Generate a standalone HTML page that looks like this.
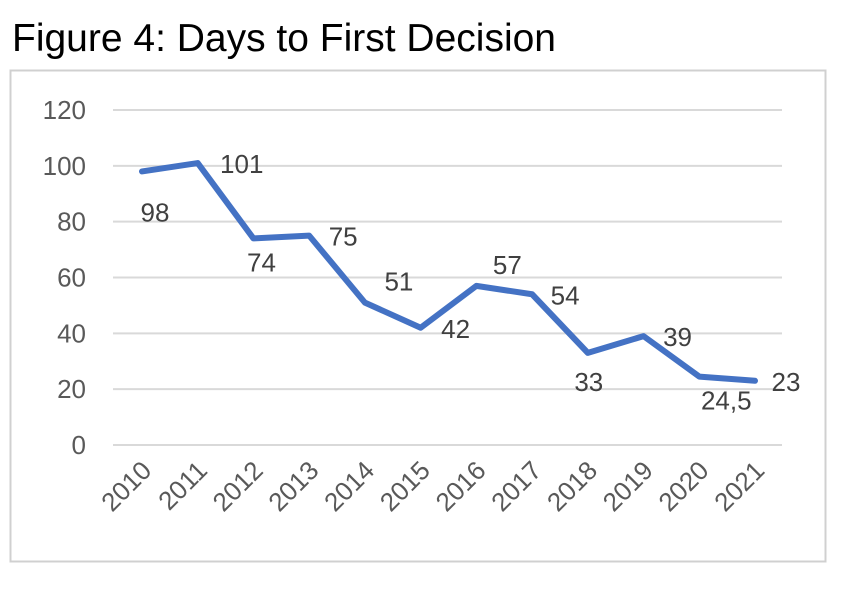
<!DOCTYPE html>
<html><head><meta charset="utf-8"><style>
body{margin:0;background:#fff;width:842px;height:585px;overflow:hidden;font-family:"Liberation Sans",Arial,sans-serif}
</style></head><body>
<svg width="842" height="585" xmlns="http://www.w3.org/2000/svg">
<text x="12" y="51" font-size="39" fill="#000">Figure 4: Days to First Decision</text>
<rect x="10.5" y="70.5" width="815" height="491" fill="none" stroke="#d0d0d0" stroke-width="2"/>
<g id="grid"></g><g id="yt"></g><g id="xt"></g><g id="ln"></g><g id="lb"></g>
</svg>
<script>
const categories=["2010","2011","2012","2013","2014","2015","2016","2017","2018","2019","2020","2021"];
const values=[98,101,74,75,51,42,57,54,33,39,24.5,23];
const valueLabels=["98","101","74","75","51","42","57","54","33","39","24,5","23"];
const yTicks=[0,20,40,60,80,100,120];
const NS="http://www.w3.org/2000/svg";
const y=v=>445-v*(335/120);
const x=i=>142+i*(613/11);
// label placement offsets (styling)
const off=[[13,41],[44,1],[8,24],[34,1],[34,-21],[35,1],[31,-21],[33,1],[1,29],[34,1],[27,24],[31,1]];
function mk(t,a,p,txt){const e=document.createElementNS(NS,t);for(const k in a)e.setAttribute(k,a[k]);if(txt!=null)e.textContent=txt;document.getElementById(p).appendChild(e);return e;}
yTicks.forEach(t=>{
 const g=mk("line",{x1:113,x2:782,y1:y(t),y2:y(t),stroke:"#d9d9d9","stroke-width":2},"grid");
 
 
 const l=mk("text",{x:86,y:y(t)+9,"font-size":26,fill:"#595959","text-anchor":"end"},"yt",String(t));
 
 
});
categories.forEach((c,i)=>{
 const t=mk("text",{x:x(i)+11,y:472,"font-size":26,fill:"#595959","text-anchor":"end",transform:`rotate(-45 ${x(i)+11} 472)`},"xt",c);
 
 
});
const p=mk("polyline",{points:values.map((v,i)=>x(i)+","+y(v)).join(" "),fill:"none",stroke:"#4472C4","stroke-width":6,"stroke-linejoin":"round","stroke-linecap":"round"},"ln");


values.forEach((v,i)=>{
 const t=mk("text",{x:x(i)+off[i][0],y:y(v)+off[i][1]+9,"font-size":26,fill:"#404040","text-anchor":"middle"},"lb",valueLabels[i]);
 
 
});
</script>
</body></html>
